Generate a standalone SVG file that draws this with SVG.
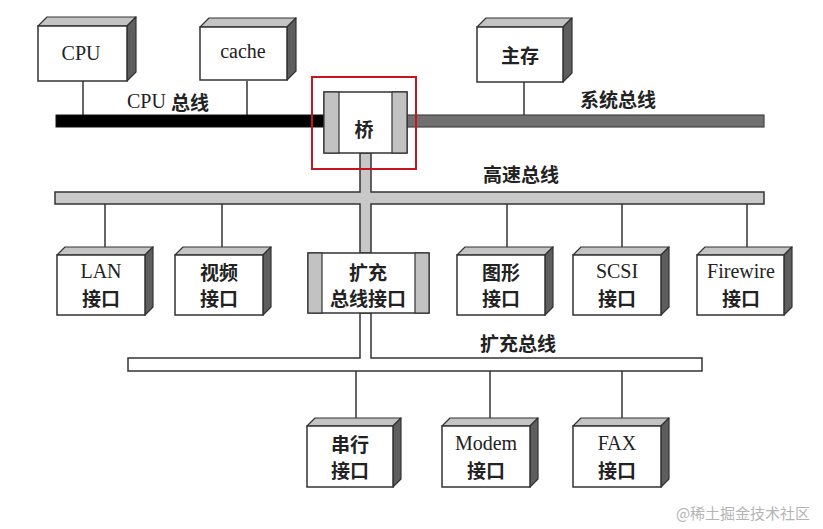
<svg xmlns="http://www.w3.org/2000/svg" width="823" height="529" viewBox="0 0 823 529">
<style>
.front{fill:#fff;stroke:#333;stroke-width:1.5}
.top{fill:#c4c4c4;stroke:#333;stroke-width:1.2;stroke-linejoin:round}
.side{fill:#5e5e5e;stroke:#333;stroke-width:1.2;stroke-linejoin:round}
.band{fill:#c2c2c2;stroke:#333;stroke-width:1.2}
.line{stroke:#333;stroke-width:1.5;fill:none}
text{font-family:"Liberation Serif","Noto Sans CJK SC",serif;font-size:20px;fill:#222;text-anchor:middle;dominant-baseline:central}
.cjk{font-family:"Noto Sans CJK SC","Liberation Serif",serif;font-weight:600;font-size:19px}
.lbl{font-family:"Noto Sans CJK SC","Liberation Serif",serif;font-weight:600;font-size:19px}
</style>
<rect width="823" height="529" fill="#fff"/>

<g id="connectors">
  <line class="line" x1="83" y1="81" x2="83" y2="115"/>
  <line class="line" x1="247" y1="81" x2="247" y2="115"/>
  <line class="line" x1="524" y1="82" x2="524" y2="115"/>
  <line class="line" x1="105" y1="204" x2="105" y2="248"/>
  <line class="line" x1="222" y1="204" x2="222" y2="248"/>
  <line class="line" x1="507" y1="204" x2="507" y2="248"/>
  <line class="line" x1="622" y1="204" x2="622" y2="248"/>
  <line class="line" x1="747" y1="204" x2="747" y2="248"/>
  <line class="line" x1="356" y1="371" x2="356" y2="418"/>
  <line class="line" x1="490" y1="371" x2="490" y2="418"/>
  <line class="line" x1="622" y1="371" x2="622" y2="418"/>
</g>

<g id="cpu-bus">
  <rect x="56" y="115" width="268" height="12" fill="#000" stroke="#111" stroke-width="1"/>
  <text class="lbl" x="168" y="101"><tspan font-family="Liberation Serif" font-weight="normal" font-size="20">CPU </tspan>总线</text>
</g>
<g id="system-bus">
  <rect x="407" y="115" width="357" height="12" fill="#707070" stroke="#444" stroke-width="1.2"/>
  <text class="lbl" x="618" y="98">系统总线</text>
</g>
<g id="high-speed-bus">
  <path d="M55,192 H360 V153 H371 V192 H764 V204 H371 V253 H360 V204 H55 Z" fill="#c8c8c8" stroke="#333" stroke-width="1.5" stroke-linejoin="miter"/>
  <text class="lbl" x="521" y="173">高速总线</text>
</g>
<g id="expansion-bus">
  <path d="M128,358 H360 V313 H371 V358 H702 V371 H128 Z" fill="#fff" stroke="#333" stroke-width="1.5"/>
  <text class="lbl" x="518" y="342">扩充总线</text>
</g>

<g id="cpu">
  <polygon class="top" points="38,26 47,17 136,17 127,26"/>
  <polygon class="side" points="127,26 136,17 136,72 127,81"/>
  <rect class="front" x="38" y="26" width="89" height="55"/>
  <text x="81" y="53">CPU</text>
</g>
<g id="cache">
  <polygon class="top" points="200,27 209,18 296,18 287,27"/>
  <polygon class="side" points="287,27 296,18 296,71 287,80"/>
  <rect class="front" x="200" y="27" width="87" height="53"/>
  <text x="243" y="51">cache</text>
</g>
<g id="main-memory">
  <polygon class="top" points="477,27 486,18 572,18 563,27"/>
  <polygon class="side" points="563,27 572,18 572,73 563,82"/>
  <rect class="front" x="477" y="27" width="86" height="55"/>
  <text class="cjk" x="520" y="54">主存</text>
</g>

<g id="bridge">
  <rect class="front" x="324" y="92" width="83" height="61"/>
  <rect class="band" x="324" y="92" width="15" height="61"/>
  <rect class="band" x="392" y="92" width="15" height="61"/>
  <text class="cjk" x="364" y="128">桥</text>
  <rect x="312" y="77" width="104" height="92" fill="none" stroke="#c4161c" stroke-width="2"/>
</g>

<g id="lan">
  <polygon class="top" points="57,255 65,247 153,247 145,255"/>
  <polygon class="side" points="145,255 153,247 153,307 145,315"/>
  <rect class="front" x="57" y="255" width="88" height="60"/>
  <text x="101" y="271">LAN</text>
  <text class="cjk" x="101" y="297">接口</text>
</g>
<g id="video">
  <polygon class="top" points="175,255 183,247 271,247 263,255"/>
  <polygon class="side" points="263,255 271,247 271,307 263,315"/>
  <rect class="front" x="175" y="255" width="88" height="60"/>
  <text class="cjk" x="219" y="271">视频</text>
  <text class="cjk" x="219" y="297">接口</text>
</g>
<g id="expansion-interface">
  <rect class="front" x="308" y="253" width="121" height="60"/>
  <rect class="band" x="308" y="253" width="14" height="60"/>
  <rect class="band" x="415" y="253" width="14" height="60"/>
  <text class="cjk" x="368" y="271">扩充</text>
  <text class="cjk" x="368" y="297">总线接口</text>
</g>
<g id="graphics">
  <polygon class="top" points="457,255 465,247 553,247 545,255"/>
  <polygon class="side" points="545,255 553,247 553,307 545,315"/>
  <rect class="front" x="457" y="255" width="88" height="60"/>
  <text class="cjk" x="501" y="271">图形</text>
  <text class="cjk" x="501" y="297">接口</text>
</g>
<g id="scsi">
  <polygon class="top" points="573,255 581,247 669,247 661,255"/>
  <polygon class="side" points="661,255 669,247 669,307 661,315"/>
  <rect class="front" x="573" y="255" width="88" height="60"/>
  <text x="617" y="271">SCSI</text>
  <text class="cjk" x="617" y="297">接口</text>
</g>
<g id="firewire">
  <polygon class="top" points="697,255 705,247 792,247 784,255"/>
  <polygon class="side" points="784,255 792,247 792,307 784,315"/>
  <rect class="front" x="697" y="255" width="87" height="60"/>
  <text x="741" y="271">Firewire</text>
  <text class="cjk" x="741" y="297">接口</text>
</g>

<g id="serial">
  <polygon class="top" points="307,426 315,418 401,418 393,426"/>
  <polygon class="side" points="393,426 401,418 401,479 393,487"/>
  <rect class="front" x="307" y="426" width="86" height="61"/>
  <text class="cjk" x="350" y="443">串行</text>
  <text class="cjk" x="350" y="469">接口</text>
</g>
<g id="modem">
  <polygon class="top" points="442,426 450,418 538,418 530,426"/>
  <polygon class="side" points="530,426 538,418 538,479 530,487"/>
  <rect class="front" x="442" y="426" width="88" height="61"/>
  <text x="486" y="443">Modem</text>
  <text class="cjk" x="486" y="469">接口</text>
</g>
<g id="fax">
  <polygon class="top" points="573,426 581,418 669,418 661,426"/>
  <polygon class="side" points="661,426 669,418 669,479 661,487"/>
  <rect class="front" x="573" y="426" width="88" height="61"/>
  <text x="617" y="443">FAX</text>
  <text class="cjk" x="617" y="469">接口</text>
</g>

<text x="743" y="512" style="font-family:'Noto Sans CJK SC',sans-serif;font-size:15px;fill:#b4b4b4">@稀土掘金技术社区</text>
</svg>
